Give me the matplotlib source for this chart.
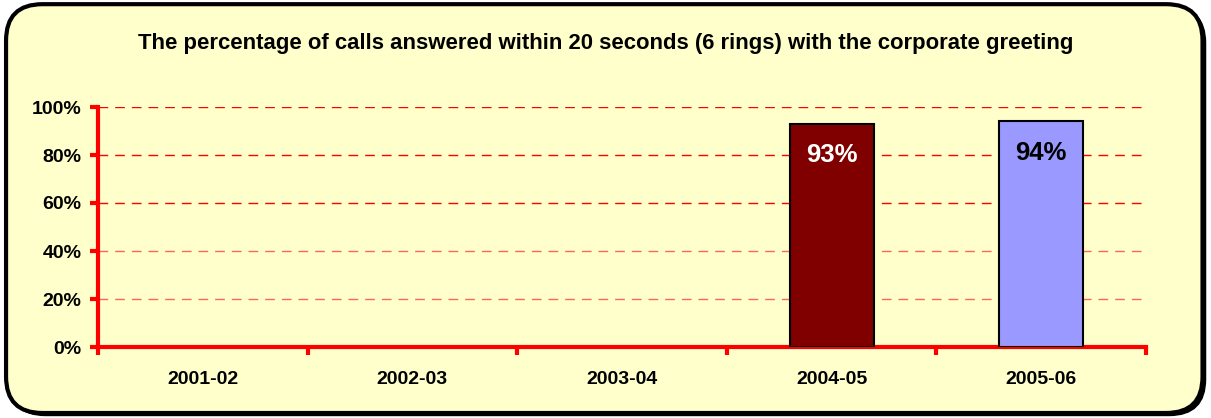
import matplotlib
matplotlib.use("Agg")
import matplotlib.pyplot as plt
from matplotlib.patches import FancyBboxPatch
from matplotlib.ticker import FixedLocator, PercentFormatter

plt.rcParams['font.family'] = ['Liberation Sans', 'DejaVu Sans']
plt.rcParams['font.weight'] = 'bold'

# --- Data ---
TITLE = "The percentage of calls answered within 20 seconds (6 rings) with the corporate greeting"
years = ['2001-02', '2002-03', '2003-04', '2004-05', '2005-06']
values = [None, None, None, 93, 94]
bar_colors = ['#800000', '#800000', '#800000', '#800000', '#9999FF']
label_colors = ['white', 'white', 'white', 'white', 'black']
y_ticks = [0, 20, 40, 60, 80, 100]

BG = '#FFFFCC'
RED = '#FF0000'

fig = plt.figure(figsize=(12.11, 4.18), dpi=100)
fig.patch.set_facecolor('white')

# rounded frame with a little shadow
shadow = FancyBboxPatch((0.0075, 0.006), 0.988, 0.978, boxstyle="round,pad=0,rounding_size=0.03",
                        transform=fig.transFigure, facecolor='black', edgecolor='black', zorder=0,
                        mutation_aspect=1211 / 418)
frame = FancyBboxPatch((0.005, 0.012), 0.988, 0.978, boxstyle="round,pad=0,rounding_size=0.03",
                       transform=fig.transFigure, facecolor=BG, edgecolor='black', linewidth=3,
                       zorder=1, mutation_aspect=1211 / 418)
fig.patches.extend([shadow, frame])

fig.text(0.5, 1 - 43 / 418, TITLE, ha='center', va='center', fontsize=15.9, fontweight='bold')

ax = fig.add_axes([98 / 1211, 1 - 347 / 418, (1146 - 98) / 1211, (347 - 107) / 418])
ax.set_facecolor('none')
ax.set_zorder(2)

x = list(range(len(years)))
for i, v in enumerate(values):
    if v is None:
        continue
    ax.bar(i, v, width=0.4, color=bar_colors[i], edgecolor='black', linewidth=1.5, zorder=3)
    ax.annotate(f"{v}%", (i, v), xytext=(0, -14), textcoords='offset points',
                ha='center', va='top', fontsize=18.5, fontweight='bold',
                color=label_colors[i], zorder=4)

ax.set_xlim(-0.5, len(years) - 0.5)
ax.set_ylim(0, 100)

# gridlines: lighter towards the bottom
for t in y_ticks[1:]:
    col = RED if t >= 60 else '#FF6655'
    ax.axhline(t, color=col, linestyle=(0, (7, 5)), linewidth=1.0, zorder=1)

ax.yaxis.set_major_locator(FixedLocator(y_ticks))
ax.yaxis.set_major_formatter(PercentFormatter(decimals=0))
ax.set_xticks([i - 0.5 for i in range(len(years) + 1)], [''] * (len(years) + 1))
ax.set_xticks(x, years, minor=True)
ax.tick_params(axis='x', which='major', length=6, width=3, color=RED, direction='out')
ax.tick_params(axis='x', which='minor', length=0, labelsize=14, pad=17)
ax.tick_params(axis='y', length=6, width=3, color=RED, labelsize=14, pad=6)
for lbl in ax.get_xticklabels(minor=True) + ax.get_yticklabels():
    lbl.set_fontweight('bold')

for side in ['top', 'right']:
    ax.spines[side].set_visible(False)
for side in ['left', 'bottom']:
    ax.spines[side].set_color(RED)
    ax.spines[side].set_linewidth(3)

fig.savefig('out.png', dpi=100, facecolor=fig.get_facecolor())
